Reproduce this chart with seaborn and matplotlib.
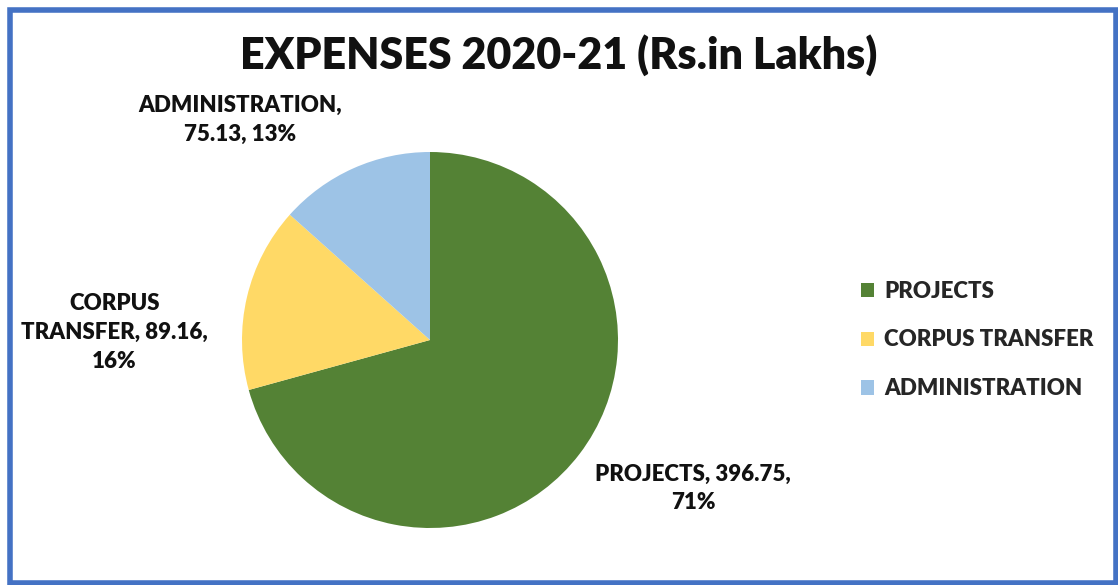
import matplotlib
matplotlib.use("Agg")
import matplotlib.pyplot as plt
import seaborn as sns
from matplotlib.patches import Rectangle

# data
categories = ["PROJECTS", "CORPUS TRANSFER", "ADMINISTRATION"]
amounts = [396.75, 89.16, 75.13]
percents = [71, 16, 13]
colors = ["#548235", "#FFD966", "#9DC3E6"]

sns.set_theme(style="white")
plt.rcParams['font.family'] = ['Lato', 'DejaVu Sans']

W, H = 1118, 585
fig = plt.figure(figsize=(W / 100, H / 100), dpi=100)

# pie centred near (430, 340) px, radius ~188 px
cx, cy, r = 430, 340, 188
ax = fig.add_axes([(cx - r) / W, (H - cy - r) / H, 2 * r / W, 2 * r / H])

pal = sns.color_palette(colors)
labels = [f"{c}, {a:.2f}, {p}%" for c, a, p in zip(categories, amounts, percents)]
wedges, texts = ax.pie(amounts, colors=pal, startangle=90, counterclock=False,
                       labels=labels, labeldistance=1.3,
                       wedgeprops=dict(linewidth=0))
ax.set_xlim(-1, 1)
ax.set_ylim(-1, 1)
ax.set_aspect("auto")

# label text as wrapped in the original
label_text = ["PROJECTS, 396.75,\n71%", "CORPUS\nTRANSFER, 89.16,\n16%",
              "ADMINISTRATION,\n75.13, 13%"]
label_pos = [(1.40, -0.79), (-1.68, 0.04), (-1.01, 1.17)]
for t, s, (x, y) in zip(texts, label_text, label_pos):
    t.set_text(s)
    t.set_position((x, y))
    t.set_ha("center")
    t.set_va("center")
    t.set_multialignment("center")
    t.set_fontsize(16)
    t.set_fontweight("heavy")
    t.set_color("#111111")
    t.set_linespacing(1.45)
    t.set_clip_on(False)

fig.text(0.5, 1 - 55 / H, "EXPENSES 2020-21 (Rs.in Lakhs)", ha="center", va="center",
         fontsize=31, fontweight="heavy", color="#111111")

ax.legend(wedges, categories, loc="center left",
          bbox_to_anchor=(841 / W, 1 - 340 / H), bbox_transform=fig.transFigure,
          frameon=False, handlelength=0.6, handleheight=0.6, handletextpad=0.45,
          labelspacing=1.25, prop=dict(size=16, weight="heavy"))

# chart frame
fig.patches.append(Rectangle((9.5 / W, 2 / H), (1116 - 9.5) / W, (H - 9.5 - 2) / H,
                             transform=fig.transFigure, fill=False,
                             edgecolor="#4472C4", linewidth=4))

fig.savefig("out.png", dpi=100)
